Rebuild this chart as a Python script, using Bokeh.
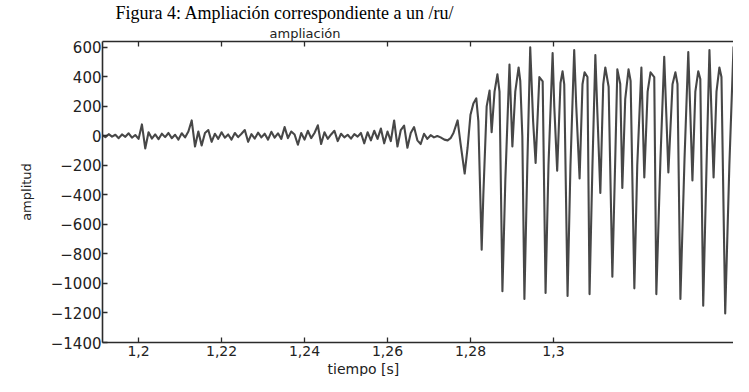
from bokeh.plotting import figure
from bokeh.models import Range1d, LinearAxis, FixedTicker, CustomJSTickFormatter, Title
from bokeh.embed import file_html
from bokeh.resources import INLINE

CAPTION = "Figura 4: Ampliación correspondiente a un /ru/"
TITLE = "ampliación"
X_LABEL = "tiempo [s]"
Y_LABEL = "amplitud"

x_ticks = [1.20, 1.22, 1.24, 1.26, 1.28, 1.30]
y_ticks = [-1400, -1200, -1000, -800, -600, -400, -200, 0, 200, 400, 600]

# low-level segment before the vowel (time in ms, amplitude)
noise_t_ms = [
    1191.2, 1192.0, 1192.8, 1193.6, 1194.4, 1195.2, 1196.0, 1196.8, 1197.6, 1198.4,
    1199.2, 1200.0, 1200.8, 1201.6, 1202.4, 1203.2, 1204.0, 1204.8, 1205.6, 1206.4,
    1207.2, 1208.0, 1208.8, 1209.6, 1210.4, 1211.2, 1212.0, 1212.8, 1213.6, 1214.4,
    1215.2, 1216.0, 1216.8, 1217.6, 1218.4, 1219.2, 1220.0, 1220.8, 1221.6, 1222.4,
    1223.2, 1224.0, 1224.8, 1225.6, 1226.4, 1227.2, 1228.0, 1228.8, 1229.6, 1230.4,
    1231.2, 1232.0, 1232.8, 1233.6, 1234.4, 1235.2, 1236.0, 1236.8, 1237.6, 1238.4,
    1239.2, 1240.0, 1240.8, 1241.6, 1242.4, 1243.2, 1244.0, 1244.8, 1245.6, 1246.4,
    1247.2, 1248.0, 1248.8, 1249.6, 1250.4, 1251.2, 1252.0, 1252.8, 1253.6, 1254.4,
    1255.2, 1256.0, 1256.8, 1257.6, 1258.4, 1259.2, 1260.0, 1260.8, 1261.6, 1262.4,
    1263.2, 1264.0, 1264.8, 1265.6, 1266.4, 1267.2, 1268.0, 1268.8, 1269.6, 1270.4,
    1271.2,
]
noise_amp = [
    5, -8, 12, -5, 8, -15, 10, -6, 18, -12,
    6, -20, 78, -85, 25, -18, 10, -22, 15, -8,
    20, -15, 8, -25, 18, -10, 30, 105, -72, 30,
    -65, 20, 40, -40, 15, -20, 25, -12, 10, -25,
    20, -8, 15, 40, -40, 12, -18, 22, -10, 15,
    -25, 28, -12, 18, -20, 60, -15, 30, 10, -60,
    20, -25, 35, -15, 20, 72, -55, 25, -20, 10,
    35, -35, 15, -10, 8, -18, 12, -5, 20, -50,
    25, -30, 35, -20, 50, -50, 30, -35, 105, -72,
    40, 70, -80, 20, 60, -30, -55, 15, -20, 5,
    -10,
]

# voiced segment (time in ms, amplitude)
burst_t_ms = [
    1272.0, 1272.8, 1273.7, 1274.5, 1275.2, 1275.9, 1276.9, 1277.6, 1278.6, 1279.3,
    1280.0, 1280.7, 1281.4, 1281.9, 1282.7, 1283.1, 1283.9, 1284.6, 1285.1, 1285.8,
    1286.5, 1287.0, 1287.7, 1288.4, 1289.4, 1290.1, 1290.8, 1291.6, 1292.0, 1292.5,
    1293.0, 1293.7, 1294.4, 1295.1, 1295.7, 1296.6, 1297.4, 1298.1, 1298.8, 1299.8,
    1300.2, 1300.9, 1301.7, 1302.2, 1302.6, 1303.4, 1304.1, 1305.0, 1305.5, 1306.3,
    1307.0, 1307.5, 1308.2, 1308.7, 1309.4, 1310.1, 1310.6, 1311.3, 1312.0, 1312.5,
    1313.3, 1314.2, 1314.9, 1315.4, 1316.1, 1316.6, 1317.3, 1318.1, 1318.6, 1319.5,
    1320.2, 1321.2, 1321.9, 1322.7, 1323.4, 1324.3, 1324.8, 1325.8, 1326.7, 1327.2,
    1327.7, 1328.7, 1329.4, 1329.9, 1330.6, 1331.6, 1332.5, 1333.0, 1333.5, 1334.2,
    1334.9, 1335.4, 1336.1, 1336.9, 1337.6, 1338.1, 1338.6, 1339.3, 1340.0, 1340.5,
    1341.4, 1342.4, 1343.4, 1344.1, 1345.1,
]
burst_amp = [
    0, -10, -25, -30, -15, 20, 105, -50, -255, -80,
    144, 220, 255, 100, -771, -400, 200, 307, 26, 300,
    418, 300, -1052, -300, 484, -72, 300, 464, 373, 0,
    -1105, -200, 601, 100, -183, 399, 370, -1065, -200, 562,
    200, -235, 360, 438, 350, -1085, -200, 582, 200, -288,
    350, 431, 399, -1072, -200, 549, 150, -386, 350, 464,
    333, -954, -150, 451, 352, -353, 250, 451, 373, -1033,
    -200, 464, -281, 300, 431, 399, -1072, -150, 536, 150,
    -248, 350, 431, 352, -1105, -150, 569, 150, -301, 300,
    438, 386, -1150, -200, 582, 150, -281, 300, 464, 399,
    -1203, -200, 601, -255, 582,
]

t_s = [v / 1000.0 for v in noise_t_ms + burst_t_ms]
amp = noise_amp + burst_amp

INK = "#2b2b2b"
FONT = "DejaVu Sans"

p = figure(width=733, height=376, output_backend="svg", toolbar_location=None,
           x_range=Range1d(1.1913, 1.3434), y_range=Range1d(-1400, 640),
           min_border_left=102, min_border_right=0, min_border_top=0, min_border_bottom=0,
           x_axis_location=None, y_axis_location=None)
p.background_fill_color = "white"
p.border_fill_color = "white"
p.outline_line_color = None
p.grid.visible = False

p.line(t_s, amp, line_color="#333333", line_width=2.1, line_alpha=0.9,
       line_join="round")

xfmt = CustomJSTickFormatter(code="""
var s = tick.toFixed(2);
if (s.endsWith('0')) { s = s.slice(0, -1); }
return s.replace('.', ',');
""")
yfmt = CustomJSTickFormatter(code="""
return tick < 0 ? '\\u2212' + Math.abs(tick).toFixed(0) : tick.toFixed(0);
""")

def style_axis(ax):
    ax.axis_line_color = INK
    ax.axis_line_width = 1.6
    ax.major_tick_line_color = INK
    ax.major_tick_line_width = 1.3
    ax.major_tick_in = 5
    ax.major_tick_out = 0
    ax.minor_tick_line_color = None
    ax.major_label_text_font = FONT
    ax.major_label_text_color = "#222222"
    ax.major_label_text_font_size = "14px"

xb = LinearAxis(ticker=FixedTicker(ticks=x_ticks), formatter=xfmt)
style_axis(xb)
xb.major_label_standoff = 3
xb.axis_label_standoff = 0
p.add_layout(xb, "below")

yl = LinearAxis(ticker=FixedTicker(ticks=y_ticks), formatter=yfmt,
                axis_label=Y_LABEL)
style_axis(yl)
yl.major_label_text_font_size = "15px"
yl.major_label_standoff = 1
yl.axis_label_text_font = FONT
yl.axis_label_text_font_style = "normal"
yl.axis_label_text_font_size = "13px"
yl.axis_label_text_color = "#222222"
yl.axis_label_standoff = 14
p.add_layout(yl, "left")

# top frame line with inward ticks, no labels
xt = LinearAxis(ticker=FixedTicker(ticks=x_ticks), formatter=xfmt)
style_axis(xt)
xt.major_label_text_color = None
xt.major_label_text_font_size = "1px"
xt.major_label_standoff = 0
xt.axis_label_standoff = 0
p.add_layout(xt, "above")

p.title.text = CAPTION
p.title.text_font = "Liberation Serif"
p.title.text_font_size = "18px"
p.title.text_font_style = "normal"
p.title.text_color = "black"
p.title.align = "left"
p.title.offset = 13
p.title.standoff = 0

sub = Title(text=TITLE, text_font=FONT, text_font_size="13px",
            text_font_style="normal", text_color="#222222", align="left",
            offset=167, standoff=2)
p.add_layout(sub, "above")

xlab = Title(text=X_LABEL, text_font=FONT, text_font_size="14px",
             text_font_style="normal", text_color="#222222", align="left",
             offset=225, standoff=0)
p.add_layout(xlab, "below")

open("out.html", "w").write(file_html(p, INLINE))
